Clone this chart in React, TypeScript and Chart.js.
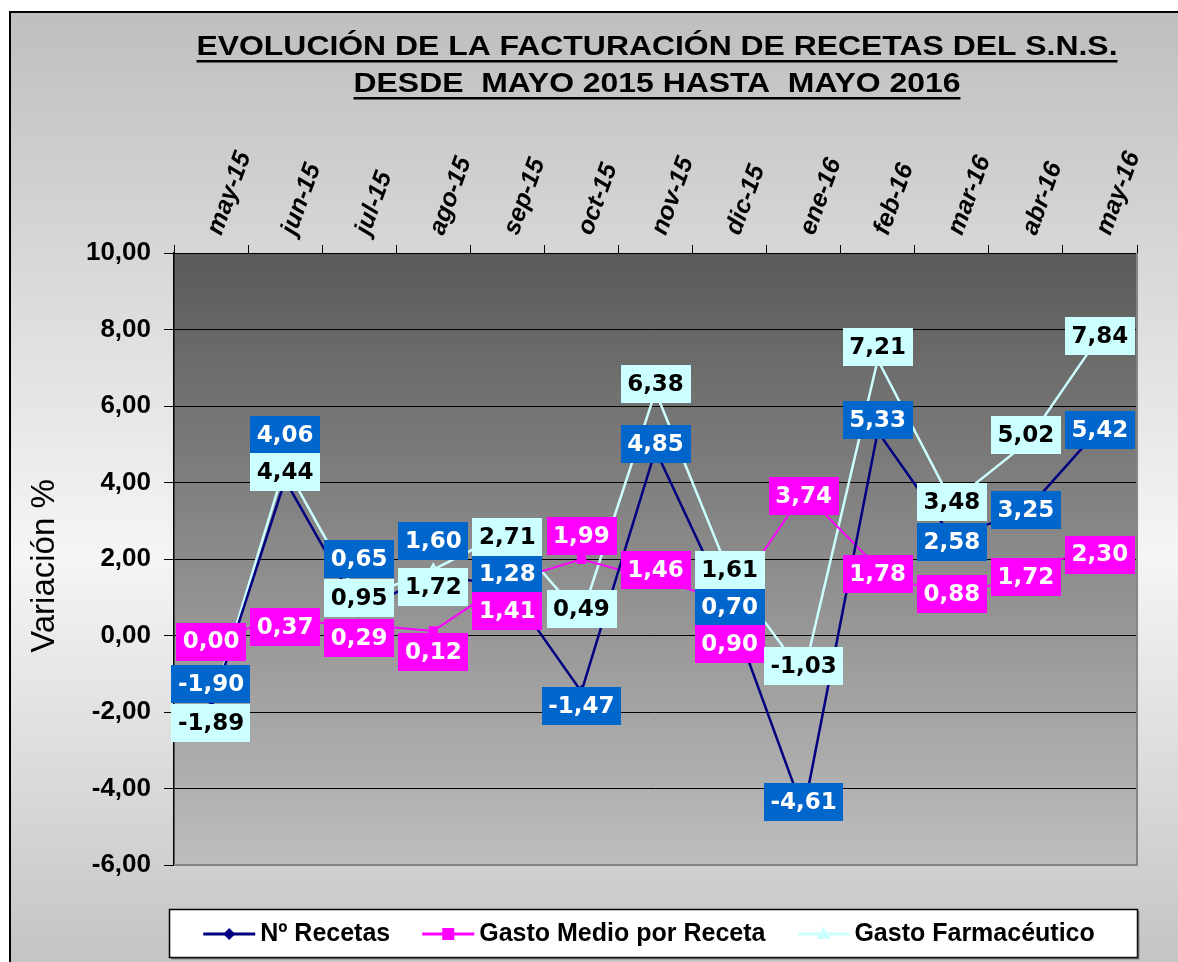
import React, { useEffect, useRef } from 'react';
import { Chart, registerables } from 'chart.js';

Chart.register(...registerables);

// ---------- DATA ----------
const categories = ['may-15', 'jun-15', 'jul-15', 'ago-15', 'sep-15', 'oct-15', 'nov-15', 'dic-15', 'ene-16', 'feb-16', 'mar-16', 'abr-16', 'may-16'];
const recetas = [-1.90, 4.06, 0.65, 1.60, 1.28, -1.47, 4.85, 0.70, -4.61, 5.33, 2.58, 3.25, 5.42];
const gastoMedio = [0.00, 0.37, 0.29, 0.12, 1.41, 1.99, 1.46, 0.90, 3.74, 1.78, 0.88, 1.72, 2.30];
const gastoFarma = [-1.89, 4.44, 0.95, 1.72, 2.71, 0.49, 6.38, 1.61, -1.03, 7.21, 3.48, 5.02, 7.84];
const seriesNames = ['Nº Recetas', 'Gasto Medio por Receta', 'Gasto Farmacéutico'];
const yMin = -6;
const yMax = 10;
const yStep = 2;
const titleLines = ['EVOLUCIÓN DE LA FACTURACIÓN DE RECETAS DEL S.N.S.', 'DESDE  MAYO 2015 HASTA  MAYO 2016'];
const yTitle = 'Variación %';

// vertical nudges of the value labels (px, relative to their point)
const recetasLabelDy = [-24, -45, -52, -33, -13, 14, -6, -2, -10, -12, 5, -1, 2];
const gastoMedioLabelDy = [6, 6, 14, 21, 29, -23, -10, 43, 4, 7, -8, 7, 7];
const gastoFarmaLabelDy = [15, 6, -1, 17, 5, -8, -7, -4, -9, -13, 0, -8, 0];

// ---------- STYLE ----------
const FONT = '"Liberation Sans", Arial, sans-serif';
const LABEL_FONT = 'bold 23px "DejaVu Sans", Verdana, sans-serif';
const lineColors = ['#000080', '#FF00FF', '#CCFFFF'];
const pointStyles = ['rectRot', 'rect', 'triangle'];
const labelBg = ['#0066CC', '#FF00FF', '#CCFFFF'];
const labelFg = ['#FFFFFF', '#FFFFFF', '#000000'];
const labelDy = [recetasLabelDy, gastoMedioLabelDy, gastoFarmaLabelDy];

const fmt = (v: number) => v.toFixed(2).replace('.', ',');

const plotBgPlugin = {
  id: 'plotBg',
  beforeDraw(chart: any) {
    const { ctx, chartArea: a } = chart;
    const g = ctx.createLinearGradient(0, a.top, 0, a.bottom);
    g.addColorStop(0, '#5a5a5a');
    g.addColorStop(1, '#bdbdbd');
    ctx.save();
    ctx.fillStyle = g;
    ctx.fillRect(a.left, a.top, a.right - a.left, a.bottom - a.top);
    ctx.restore();
  },
  beforeDatasetsDraw(chart: any) {
    const { ctx, chartArea: a } = chart;
    ctx.save();
    ctx.strokeStyle = '#858585';
    ctx.lineWidth = 2;
    ctx.beginPath();
    ctx.moveTo(a.right, a.top);
    ctx.lineTo(a.right, a.bottom);
    ctx.lineTo(a.left, a.bottom);
    ctx.stroke();
    ctx.restore();
  },
};

const valueLabelPlugin = {
  id: 'valueLabels',
  afterDatasetsDraw(chart: any) {
    const ctx = chart.ctx;
    ctx.save();
    ctx.font = LABEL_FONT;
    ctx.textAlign = 'center';
    ctx.textBaseline = 'middle';
    chart.data.datasets.forEach((ds: any, di: number) => {
      const meta = chart.getDatasetMeta(di);
      meta.data.forEach((pt: any, i: number) => {
        const text = fmt(ds.data[i]);
        const w = ctx.measureText(text).width + 13;
        const h = 38;
        const cx = pt.x;
        const cy = pt.y + labelDy[di][i];
        ctx.fillStyle = labelBg[di];
        ctx.fillRect(Math.round(cx - w / 2), Math.round(cy - h / 2), Math.round(w), h);
        ctx.fillStyle = labelFg[di];
        ctx.fillText(text, cx, cy + 1);
      });
    });
    ctx.restore();
  },
};

const textPlugin = {
  id: 'titles',
  afterDraw(chart: any) {
    const ctx = chart.ctx;
    const a = chart.chartArea;
    const cx = 646;
    const baselines = [42, 79];
    ctx.save();
    ctx.font = `bold 27px ${FONT}`;
    const w0 = ctx.measureText(titleLines[0]).width;
    const sx = 921 / w0;
    ctx.fillStyle = '#000';
    ctx.textAlign = 'center';
    ctx.textBaseline = 'alphabetic';
    titleLines.forEach((t, i) => {
      const w = ctx.measureText(t).width * sx;
      ctx.save();
      ctx.translate(cx, baselines[i]);
      ctx.scale(sx, 1);
      ctx.fillText(t, 0, 0);
      ctx.restore();
      ctx.fillRect(cx - w / 2, baselines[i] + 5, w, 2.5);
    });

    // y axis title
    ctx.save();
    ctx.font = `33px ${FONT}`;
    ctx.textAlign = 'center';
    ctx.textBaseline = 'middle';
    ctx.translate(34, (a.top + a.bottom) / 2 + 7);
    ctx.rotate(-Math.PI / 2);
    ctx.fillText(yTitle, 0, 0);
    ctx.restore();
    ctx.restore();
  },
};

const legendPlugin = {
  id: 'customLegend',
  afterDraw(chart: any) {
    const ctx = chart.ctx;
    const a = chart.chartArea;
    const box = { x: 158, y: 896, w: a.right - 158, h: 48 };
    ctx.save();
    ctx.fillStyle = '#fff';
    ctx.fillRect(box.x, box.y, box.w, box.h);
    ctx.strokeStyle = '#000';
    ctx.lineWidth = 1.5;
    ctx.strokeRect(box.x + 0.5, box.y + 0.5, box.w, box.h);
    ctx.strokeStyle = '#555';
    ctx.beginPath();
    ctx.moveTo(box.x + box.w + 1.5, box.y + 2);
    ctx.lineTo(box.x + box.w + 1.5, box.y + box.h + 1.5);
    ctx.lineTo(box.x + 2, box.y + box.h + 1.5);
    ctx.stroke();

    ctx.font = `bold 25px ${FONT}`;
    ctx.textBaseline = 'middle';
    ctx.textAlign = 'left';
    const sample = 52;
    const gap = 5;
    const itemGap = 32;
    const widths = chart.data.datasets.map((d: any) => sample + gap + ctx.measureText(d.label).width);
    const total = widths.reduce((s: number, v: number) => s + v, 0) + itemGap * (widths.length - 1);
    let x = box.x + (box.w - total) / 2 - 4;
    const cy = box.y + box.h / 2 + 1;
    chart.data.datasets.forEach((d: any, i: number) => {
      ctx.strokeStyle = lineColors[i];
      ctx.lineWidth = 3;
      ctx.beginPath();
      ctx.moveTo(x, cy);
      ctx.lineTo(x + sample, cy);
      ctx.stroke();
      const mx = x + sample / 2;
      ctx.fillStyle = lineColors[i];
      ctx.beginPath();
      if (i === 0) {
        ctx.moveTo(mx, cy - 6); ctx.lineTo(mx + 6, cy); ctx.lineTo(mx, cy + 6); ctx.lineTo(mx - 6, cy);
      } else if (i === 1) {
        ctx.rect(mx - 6, cy - 6, 12, 12);
      } else {
        ctx.moveTo(mx, cy - 7); ctx.lineTo(mx + 7, cy + 5); ctx.lineTo(mx - 7, cy + 5);
      }
      ctx.closePath();
      ctx.fill();
      ctx.fillStyle = '#000';
      ctx.fillText(d.label, x + sample + gap, cy);
      x += widths[i] + itemGap;
    });
    ctx.restore();
  },
};

export default function App() {
  const ref = useRef<HTMLCanvasElement>(null);
  useEffect(() => {
    document.body.style.overflow = 'hidden';
    document.documentElement.style.overflow = 'hidden';
    const chart = new Chart(ref.current as HTMLCanvasElement, {
      type: 'line',
      data: {
        labels: categories,
        datasets: [recetas, gastoMedio, gastoFarma].map((vals, i) => ({
          label: seriesNames[i],
          data: vals,
          borderColor: lineColors[i],
          backgroundColor: lineColors[i],
          borderWidth: i === 1 ? 2 : 2.5,
          pointStyle: pointStyles[i] as any,
          pointRadius: 5,
          pointBackgroundColor: lineColors[i],
          pointBorderColor: lineColors[i],
          tension: 0,
          fill: false,
        })),
      },
      options: {
        responsive: false,
        animation: false,
        events: [],
        layout: { padding: { left: 0, top: 0, right: 41 + 22, bottom: 97 } },
        plugins: {
          legend: { display: false },
          title: { display: false },
          tooltip: { enabled: false },
        },
        scales: {
          x: {
            position: 'top',
            offset: true,
            grid: { offset: true, drawOnChartArea: false, drawTicks: true, tickLength: 8, color: '#000' },
            border: { display: true, color: '#000', width: 1 },
            ticks: {
              color: '#000',
              minRotation: 70,
              maxRotation: 70,
              padding: 6,
              labelOffset: 32,
              font: { family: FONT, size: 25, style: 'italic', weight: 'bold' },
            },
            afterFit(scale: any) { scale.height = 240; },
          },
          y: {
            min: yMin,
            max: yMax,
            ticks: {
              stepSize: yStep,
              color: '#000',
              padding: 13,
              font: { family: FONT, size: 26, weight: 'bold' },
              callback: (v: any) => fmt(Number(v)),
            },
            grid: { color: '#000', lineWidth: 1, tickLength: 10, drawTicks: true },
            border: { display: true, color: '#000', width: 1.5 },
            afterFit(scale: any) { scale.width = 163; },
          },
        },
      },
      plugins: [plotBgPlugin, valueLabelPlugin, textPlugin, legendPlugin],
    } as any);
    return () => chart.destroy();
  }, []);

  return (
    <div
      style={{
        position: 'absolute',
        left: 9,
        top: 11,
        width: 1191,
        height: 970,
        boxSizing: 'border-box',
        borderLeft: '2px solid #000',
        borderTop: '2px solid #000',
        background: 'linear-gradient(to bottom, #bfbfbf 0%, #f5f5f5 56%, #c4c4c4 98%)',
        overflow: 'hidden',
      }}
    >
      <canvas ref={ref} width={1189} height={949} style={{ display: 'block', width: 1189, height: 949 }} />
    </div>
  );
}
